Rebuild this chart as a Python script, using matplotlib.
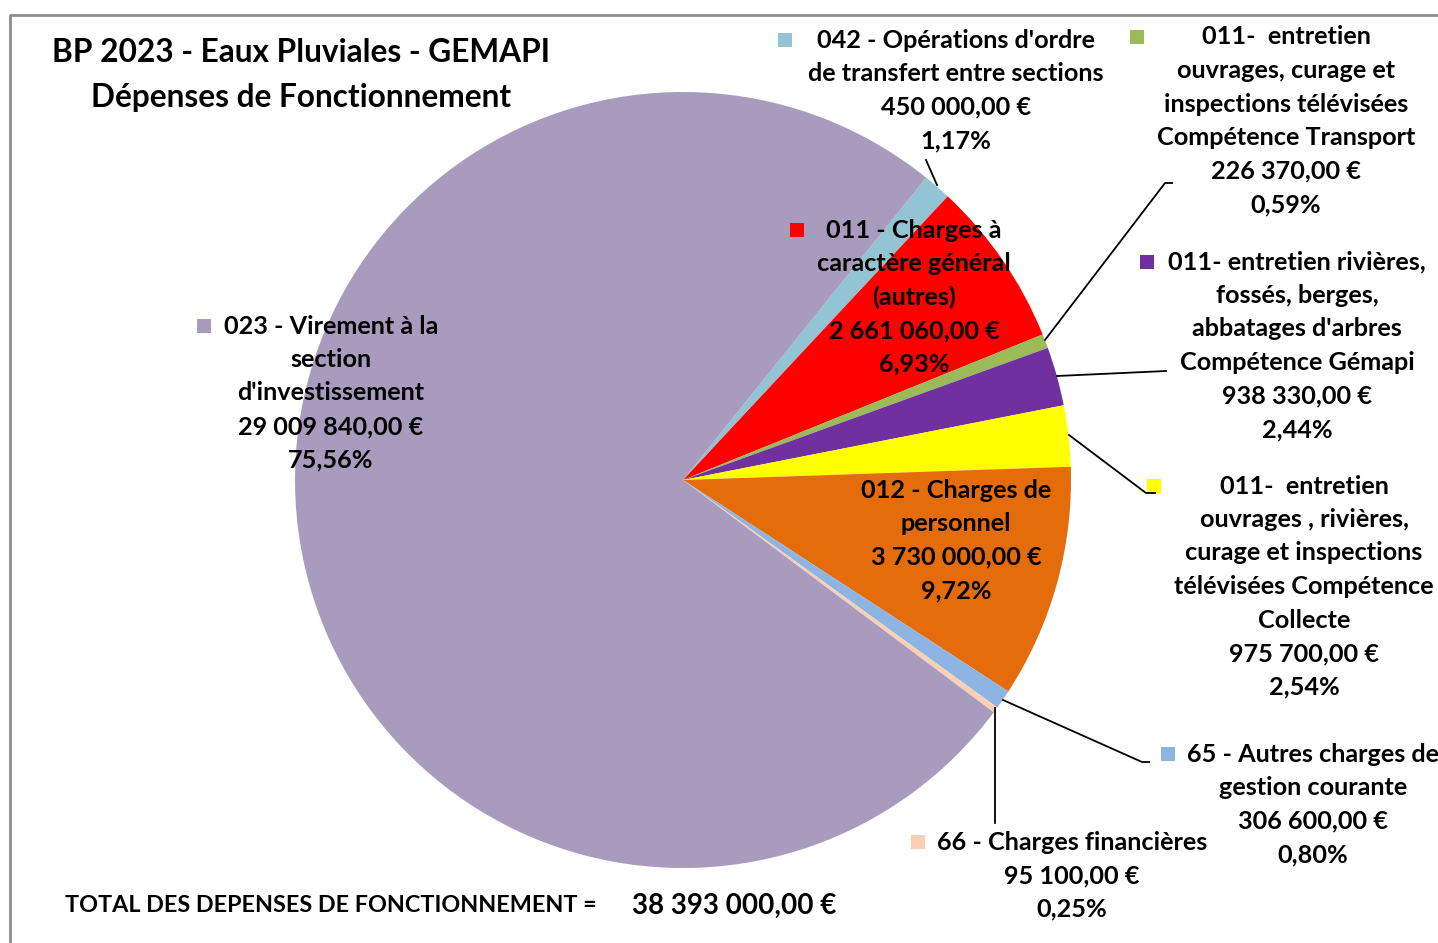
import matplotlib
matplotlib.use("Agg")
import matplotlib.pyplot as plt
from matplotlib.patches import Rectangle

plt.rcParams['font.family'] = ['Lato', 'DejaVu Sans']

# ---------------- data ----------------
labels = [
    ["042 - Opérations d'ordre", "de transfert entre sections"],
    ["011 - Charges à", "caractère général", "(autres)"],
    ["011-  entretien", "ouvrages, curage et", "inspections télévisées", "Compétence Transport"],
    ["011- entretien rivières,", "fossés, berges,", "abbatages d'arbres", "Compétence Gémapi"],
    ["011-  entretien", "ouvrages , rivières,", "curage et inspections", "télévisées Compétence", "Collecte"],
    ["012 - Charges de", "personnel"],
    ["65 - Autres charges de", "gestion courante"],
    ["66 - Charges financières"],
    ["023 - Virement à la", "section", "d'investissement"],
]
values = [450000, 2661060, 226370, 938330, 975700, 3730000, 306600, 95100, 29009840]
colors = ["#93C4D4", "#FF0000", "#9BBB59", "#7030A0", "#FFFF00",
          "#E46C0A", "#8EB4E3", "#FAD0B2", "#A99BBE"]
total = sum(values)

def euro(v):
    return f"{v:,.2f}".replace(",", " ").replace(".", ",") + " €"

def pct(v):
    return f"{v / total * 100:.2f}%".replace(".", ",")

# ---------------- layout (pixels) ----------------
W, H = 1438, 943
# label block: centre x, first line y, legend key x
label_pos = [(956, 40, 785), (914, 230, 797), (1286, 37, 1137), (1297, 262, 1147),
             (1304, 486, 1154), (956, 490, 840), (1313, 754, 1168), (1072, 842, 918),
             (331, 326, 204)]
leaders = [
    [(937, 185), (926, 160)],
    None,
    [(1045, 340), (1165, 183), (1172, 183)],
    [(1057, 376), (1166, 371)],
    [(1069, 435), (1146, 493), (1155, 493)],
    None,
    [(1003, 700), (1142, 762), (1149, 762)],
    [(995, 708), (995, 823)],
    None,
]
line_h = 33.5

fig = plt.figure(figsize=(W / 100, H / 100), dpi=100)
ax = fig.add_axes([0, 0, 1, 1])

ax.pie(values, colors=colors, startangle=51.2, counterclock=False,
       center=(683, H - 480), radius=388, wedgeprops=dict(linewidth=0))

# frame of the chart area
ax.plot([10, 10, W + 5], [-5, H - 15, H - 15], color="#8C8C8C", lw=2, solid_capstyle='butt')

for i in range(len(values)):
    cx, y0, mx = label_pos[i]
    lines = labels[i] + [euro(values[i]), pct(values[i])]
    for k, s in enumerate(lines):
        ax.text(cx, H - (y0 + k * line_h), s, ha='center', va='center',
                fontsize=18.2, fontweight='bold', color='black')
    ax.add_patch(Rectangle((mx - 7, H - y0 - 7), 14, 14, color=colors[i], lw=0))
    if leaders[i]:
        xs = [p[0] for p in leaders[i]]
        ys = [H - p[1] for p in leaders[i]]
        ax.plot(xs, ys, color='black', lw=1.3)

ax.text(301, H - 53, "BP 2023 - Eaux Pluviales - GEMAPI", ha='center', va='center',
        fontsize=22.8, fontweight='bold')
ax.text(301, H - 97, "Dépenses de Fonctionnement", ha='center', va='center',
        fontsize=22.8, fontweight='bold')

ax.text(65, H - 906, "TOTAL DES DEPENSES DE FONCTIONNEMENT =", ha='left', va='center',
        fontsize=16.8, fontweight='bold')
ax.text(632, H - 906, euro(total), ha='left', va='center',
        fontsize=20, fontweight='bold')

ax.set_xlim(0, W)
ax.set_ylim(0, H)
ax.set_aspect('equal')
ax.axis('off')

fig.savefig("out.png", dpi=100)
